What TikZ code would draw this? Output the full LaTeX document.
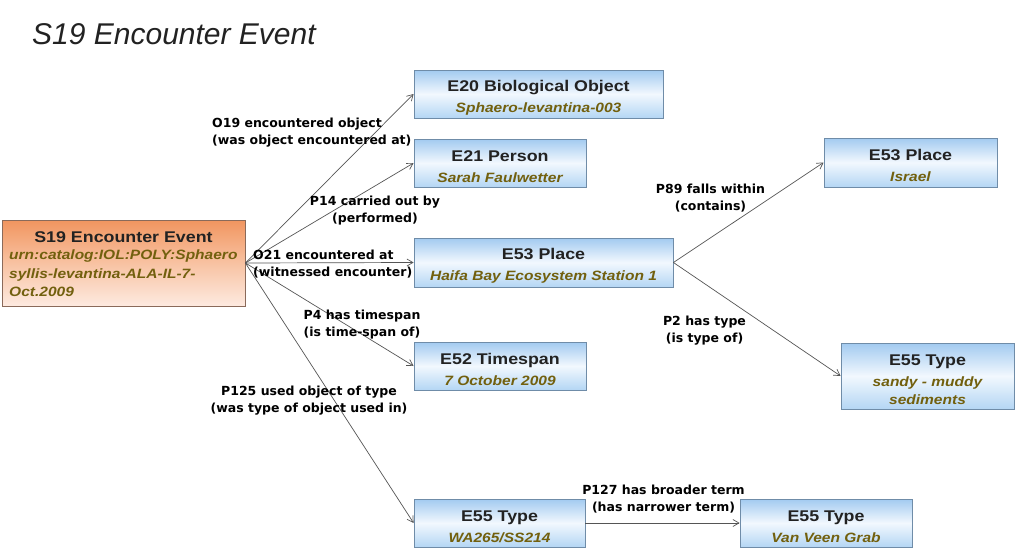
\documentclass[tikz,border=0pt]{standalone}
\usepackage{fontspec}
\usetikzlibrary{arrows.meta}
\setmainfont{Liberation Sans}
\newfontfamily\lblfont{DejaVu Sans}
\newfontfamily\ttlfont[FakeStretch=1.15]{Liberation Sans}
\newfontfamily\hdfont{Liberation Sans}
\definecolor{olivetxt}{HTML}{72600E}
\definecolor{darktxt}{HTML}{222222}
\definecolor{boxtop}{HTML}{A2CAF0}
\definecolor{boxmid}{HTML}{F2F8FE}
\definecolor{boxbot}{HTML}{B4D6F4}
\definecolor{boxline}{HTML}{6F8CA8}
\definecolor{ortop}{HTML}{F1955F}
\definecolor{ormid}{HTML}{F8C2A2}
\definecolor{orbot}{HTML}{FDEAE0}
\definecolor{orline}{HTML}{8A6A5A}
\definecolor{edgecol}{HTML}{555555}
\tikzset{
  entity/.style={draw=boxline, line width=0.8pt, top color=boxtop, bottom color=boxbot, middle color=boxmid,
    align=center, inner sep=0pt, text=darktxt, font=\ttlfont\fontsize{15.5}{21}\selectfont},
  event/.style={draw=orline, line width=0.8pt, top color=ortop, bottom color=orbot, middle color=ormid,
    inner sep=0pt, text=darktxt},
  rel/.style={font=\lblfont\bfseries\fontsize{12.5}{17}\selectfont, text=black, inner sep=0pt, align=center},
  conn/.style={draw=edgecol, line width=0.7pt, -{Straight Barb[length=6pt,width=7pt]}},
}
\newcommand{\ttl}[1]{{\ttlfont\bfseries\fontsize{15.5}{21}\selectfont\rule{0pt}{18pt}#1}}
\newcommand{\sbt}[1]{{\ttlfont\bfseries\itshape\fontsize{13.5}{21}\selectfont\color{olivetxt}#1}}
\begin{document}
\begin{tikzpicture}[x=1pt,y=-1pt]
\useasboundingbox (0,0) rectangle (1024,551);
\fill[white] (0,0) rectangle (1024,551);
\node[anchor=base west, font=\hdfont\itshape\fontsize{30}{34}\selectfont, text=darktxt, inner sep=0pt] (hd) at (32,45) {S19 Encounter Event};

\node[event, minimum width=243pt, minimum height=86pt] (s19) at (123.5,263) {};
\node[anchor=base, inner sep=0pt, text=darktxt] (s19t) at (123.5,242) {\ttl{S19 Encounter Event}};
\node[anchor=north west, inner sep=0pt, align=left, text=olivetxt,
  font=\ttlfont\bfseries\itshape\fontsize{13.5}{18.5}\selectfont] (s19s) at (9,250)
  {urn:catalog:IOL:POLY:Sphaero\\syllis-levantina-ALA-IL-7-\\Oct.2009};

\node[entity, minimum width=249pt, minimum height=48pt] (e20) at (538.5,94) {\ttl{E20 Biological Object}\\\sbt{Sphaero-levantina-003}};
\node[entity, minimum width=172pt, minimum height=48pt] (e21) at (500,163) {\ttl{E21 Person}\\\sbt{Sarah Faulwetter}};
\node[entity, minimum width=259pt, minimum height=49pt] (e53) at (543.5,262.5) {\ttl{E53 Place}\\\sbt{Haifa Bay Ecosystem Station 1}};
\node[entity, minimum width=172pt, minimum height=48pt] (e52) at (500,366) {\ttl{E52 Timespan}\\\sbt{7 October 2009}};
\node[entity, minimum width=171pt, minimum height=48pt] (e55a) at (499.5,523) {\ttl{E55 Type}\\\sbt{WA265/SS214}};
\node[entity, minimum width=172pt, minimum height=48pt] (e55b) at (826,523) {\ttl{E55 Type}\\\sbt{Van Veen Grab}};
\node[entity, minimum width=173pt, minimum height=49pt] (e53b) at (910.5,162.5) {\ttl{E53 Place}\\\sbt{Israel}};
\node[entity, minimum width=173pt, minimum height=66pt] (e55c) at (927.5,376) {\ttl{E55 Type}\\\sbt{sandy - muddy}\\[-3pt]\sbt{sediments}};

\draw[conn] (s19.east) -- (e20.west);
\draw[conn] (s19.east) -- (e21.west);
\draw[conn] (s19.east) -- (e53.west);
\draw[conn] (s19.east) -- (e52.west);
\draw[conn] (s19.east) -- (e55a.west);
\draw[conn] (e53.east) -- (e53b.west);
\draw[conn] (e53.east) -- (e55c.west);
\draw[conn] (e55a.east) -- (e55b.west);

\node[rel, anchor=west, align=left] (l1) at (212,132.5) {O19 encountered object\\(was object encountered at)};
\node[rel] (l2) at (375,210.5) {P14 carried out by\\(performed)};
\node[rel, anchor=west, align=left] (l3) at (253,264.5) {O21 encountered at\\(witnessed encounter)};
\node[rel] (l4) at (362,324.5) {P4 has timespan\\(is time-span of)};
\node[rel] (l5) at (309,400.5) {P125 used object of type\\(was type of object used in)};
\node[rel] (l6) at (710.5,198.5) {P89 falls within\\(contains)};
\node[rel] (l7) at (704.5,330.5) {P2 has type\\(is type of)};
\node[rel] (l8) at (663.5,499.5) {P127 has broader term\\(has narrower term)};
\end{tikzpicture}
\end{document}
